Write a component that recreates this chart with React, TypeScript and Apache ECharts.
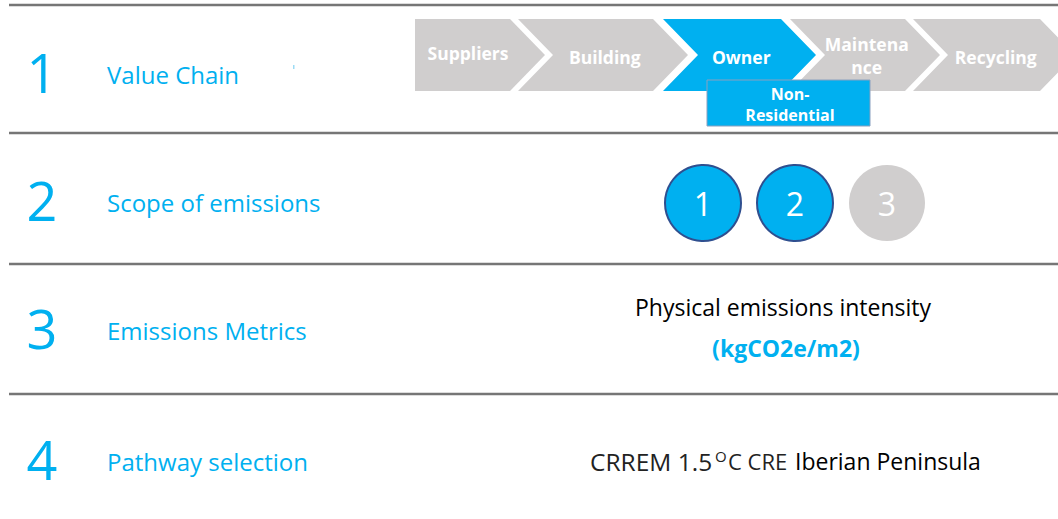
import React, { useEffect, useRef } from "react";
import * as echarts from "echarts";

// ---- content ----
const rowNumbers = ["1", "2", "3", "4"];
const rowLabels = ["Value Chain", "Scope of emissions", "Emissions Metrics", "Pathway selection"];
const stages = ["Suppliers", "Building", "Owner", "Maintena\nnce", "Recycling"];
const stageActive = [false, false, true, false, false];
const ownerSubCategory = "Non-\nResidential";
const scopes = ["1", "2", "3"];
const scopeActive = [true, true, false];
const metricName = "Physical emissions intensity";
const metricUnit = "(kgCO2e/m2)";
const pathwayPrefix = "CRREM 1.5";
const pathwayDegree = "O";
const pathwaySuffix = "C CRE";
const pathwayRegion = "Iberian Peninsula";

// ---- styling / layout ----
const BLUE = "#00b0f0";
const GRAY = "#d0cece";
const LINE = "#767676";
const FONT = "'Open Sans', 'Noto Sans', sans-serif";
const W = 1058;
const H = 519;
const dividerYs = [5, 133, 264, 394];
const rowCenters = [76, 204, 332, 463];
const chevX = [415, 518, 663, 790, 913];
const chevW = [95, 135, 118, 115, 127];
const chevTop = 19;
const chevBottom = 91;
const chevDepth = 35;

function buildGraphic() {
  const els: any[] = [];
  // divider lines
  dividerYs.forEach((y) => {
    els.push({
      type: "line",
      shape: { x1: 9, y1: y, x2: W, y2: y },
      style: { stroke: LINE, lineWidth: 2.5 },
    });
  });
  // row numbers and labels
  rowNumbers.forEach((n, i) => {
    els.push({
      type: "text",
      x: 42,
      y: rowCenters[i] - 4,
      style: {
        text: n,
        fill: BLUE,
        font: `54px ${FONT}`,
        align: "center",
        verticalAlign: "middle",
      },
    });
    els.push({
      type: "text",
      x: 107,
      y: rowCenters[i] - 1.5,
      style: {
        text: rowLabels[i],
        fill: BLUE,
        font: `24px ${FONT}`,
        align: "left",
        verticalAlign: "middle",
      },
    });
  });
  // stray mark
  els.push({ type: "rect", shape: { x: 293, y: 65, width: 1.5, height: 4 }, style: { fill: "#9ddcf5" } });

  // chevrons
  const mid = (chevTop + chevBottom) / 2;
  stages.forEach((s, i) => {
    const x0 = chevX[i];
    const xr = x0 + chevW[i];
    const pts: number[][] = [
      [x0, chevTop],
      [xr, chevTop],
      [xr + chevDepth, mid],
      [xr, chevBottom],
      [x0, chevBottom],
    ];
    if (i > 0) pts.push([x0 + chevDepth, mid]);
    els.push({
      type: "polygon",
      shape: { points: pts },
      style: { fill: stageActive[i] ? BLUE : GRAY },
    });
    const cx = i === 0 ? x0 + (chevW[i] + chevDepth) / 2 - 12 : x0 + chevDepth + (chevW[i] - chevDepth / 2) / 2 - 7;
    const lines = s.split("\n");
    els.push({
      type: "text",
      x: cx,
      y: i === 0 ? mid - 2 : lines.length > 1 ? mid : mid + 2,
      style: {
        text: s,
        fill: "#ffffff",
        font: `bold 17.5px ${FONT}`,
        lineHeight: 23,
        align: "center",
        verticalAlign: "middle",
      },
    });
  });
  // Non-Residential box
  els.push({
    type: "rect",
    shape: { x: 707, y: 80, width: 163, height: 46 },
    style: { fill: BLUE, stroke: "#8aa0bf", lineWidth: 1 },
  });
  els.push({
    type: "text",
    x: 790,
    y: 104,
    style: {
      text: ownerSubCategory,
      fill: "#ffffff",
      font: `bold 16px ${FONT}`,
      lineHeight: 21,
      align: "center",
      verticalAlign: "middle",
    },
  });

  // scope circles
  scopes.forEach((s, i) => {
    const cx = 703 + i * 92;
    els.push({
      type: "circle",
      shape: { cx, cy: 203, r: 38 },
      style: scopeActive[i]
        ? { fill: BLUE, stroke: "#2f4f8f", lineWidth: 2 }
        : { fill: GRAY },
    });
    els.push({
      type: "text",
      x: cx,
      y: 203,
      style: {
        text: s,
        fill: "#ffffff",
        font: `32px ${FONT}`,
        align: "center",
        verticalAlign: "middle",
      },
    });
  });

  // metric
  els.push({
    type: "text",
    x: 783,
    y: 307,
    style: { text: metricName, fill: "#000000", font: `23px ${FONT}`, align: "center", verticalAlign: "middle" },
  });
  els.push({
    type: "text",
    x: 786,
    y: 348,
    style: { text: metricUnit, fill: BLUE, font: `bold 23px ${FONT}`, align: "center", verticalAlign: "middle" },
  });

  // pathway
  const py = 461;
  els.push({
    type: "text",
    x: 590,
    y: py,
    style: { text: pathwayPrefix, fill: "#222222", font: `24.5px ${FONT}`, align: "left", verticalAlign: "middle" },
  });
  els.push({
    type: "text",
    x: 715,
    y: py - 5,
    style: { text: pathwayDegree, fill: "#222222", font: `15px ${FONT}`, align: "left", verticalAlign: "middle" },
  });
  els.push({
    type: "text",
    x: 728,
    y: py,
    style: { text: pathwaySuffix, fill: "#222222", font: `22px ${FONT}`, align: "left", verticalAlign: "middle" },
  });
  els.push({
    type: "text",
    x: 795,
    y: py,
    style: { text: pathwayRegion, fill: "#000000", font: `23px ${FONT}`, align: "left", verticalAlign: "middle" },
  });
  return els;
}

export default function App() {
  const ref = useRef<HTMLDivElement>(null);
  useEffect(() => {
    if (!ref.current) return;
    const chart = echarts.init(ref.current, undefined, { renderer: "svg" });
    chart.setOption({
      animation: false,
      backgroundColor: "#ffffff",
      graphic: { elements: buildGraphic() },
    });
    return () => chart.dispose();
  }, []);
  return (
    <div
      ref={ref}
      style={{ position: "fixed", left: 0, top: 0, width: W, height: H, background: "#fff" }}
    />
  );
}
